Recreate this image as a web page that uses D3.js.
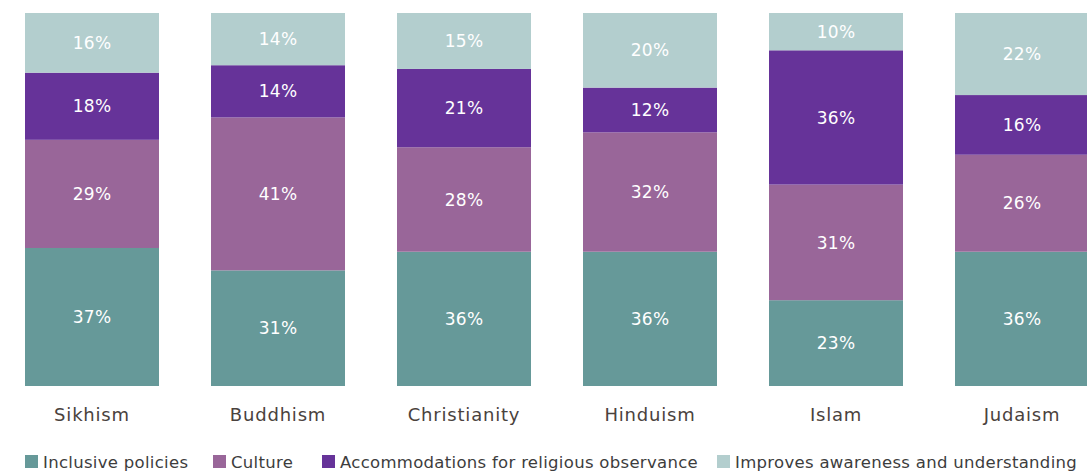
<!DOCTYPE html>
<html>
<head>
<meta charset="utf-8">
<script src="https://cdn.jsdelivr.net/npm/d3@7"></script>
<style>
  html, body { margin: 0; padding: 0; background: #ffffff; overflow: hidden; }
  svg { display: block; }
</style>
</head>
<body>
<svg id="chart" width="1087" height="473"></svg>
<script>
const categories = ["Sikhism", "Buddhism", "Christianity", "Hinduism", "Islam", "Judaism"];
const seriesNames = ["Inclusive policies", "Culture", "Accommodations for religious observance", "Improves awareness and understanding"];
const inclusivePolicies = [37, 31, 36, 36, 23, 36];
const culture = [29, 41, 28, 32, 31, 26];
const accommodations = [18, 14, 21, 12, 36, 16];
const improvesAwareness = [16, 14, 15, 20, 10, 22];
const colors = ["#669999", "#996699", "#663399", "#b3cece"];

const seriesValues = [inclusivePolicies, culture, accommodations, improvesAwareness];
const table = categories.map((c, i) => {
  const row = { category: c };
  seriesNames.forEach((s, j) => row[s] = seriesValues[j][i]);
  return row;
});

const FONT = "'DejaVu Sans', sans-serif";
const svg = d3.select("#chart");

const x = d3.scaleBand().domain(categories).range([25, 1089])
  .paddingInner(52 / 186).paddingOuter(0);
const y = d3.scaleLinear().domain([0, 100]).range([386, 13]);
const color = d3.scaleOrdinal().domain(seriesNames).range(colors);

const stacked = d3.stack().keys(seriesNames)(table);

const layers = svg.append("g").selectAll("g").data(stacked).join("g")
  .attr("fill", d => color(d.key));

layers.selectAll("rect").data(d => d).join("rect")
  .attr("x", d => x(d.data.category))
  .attr("y", d => y(d[1]))
  .attr("width", x.bandwidth())
  .attr("height", d => y(d[0]) - y(d[1]));

layers.selectAll("text").data(d => d).join("text")
  .attr("x", d => x(d.data.category) + x.bandwidth() / 2)
  .attr("y", d => (y(d[0]) + y(d[1])) / 2)
  .attr("dy", "0.36em")
  .attr("text-anchor", "middle")
  .attr("fill", "#ffffff")
  .style("font-family", FONT)
  .style("font-size", "17px")
  .style("letter-spacing", "0.3px")
  .text(d => (d[1] - d[0]) + "%");

// category axis
const xAxis = d3.axisBottom(x).tickSize(0).tickPadding(0);
const axisG = svg.append("g").attr("transform", "translate(0,386)").call(xAxis);
axisG.select(".domain").remove();
axisG.selectAll("text")
  .attr("y", 29)
  .attr("dy", "0.36em")
  .attr("fill", "#4a423d")
  .style("font-family", FONT)
  .style("font-size", "18px")
  .style("letter-spacing", "0.8px");

// legend
const legendX = [25, 213, 322, 717];
const legend = svg.append("g").selectAll("g").data(seriesNames).join("g")
  .attr("transform", (d, i) => `translate(${legendX[i]},455)`);
legend.append("rect").attr("width", 13).attr("height", 13).attr("fill", d => color(d));
legend.append("text")
  .attr("x", 18).attr("y", 7).attr("dy", "0.36em")
  .attr("fill", "#3d3d3d")
  .style("font-family", FONT)
  .style("font-size", "16.5px")
  .style("letter-spacing", "0.3px")
  .text(d => d);
</script>
</body>
</html>
